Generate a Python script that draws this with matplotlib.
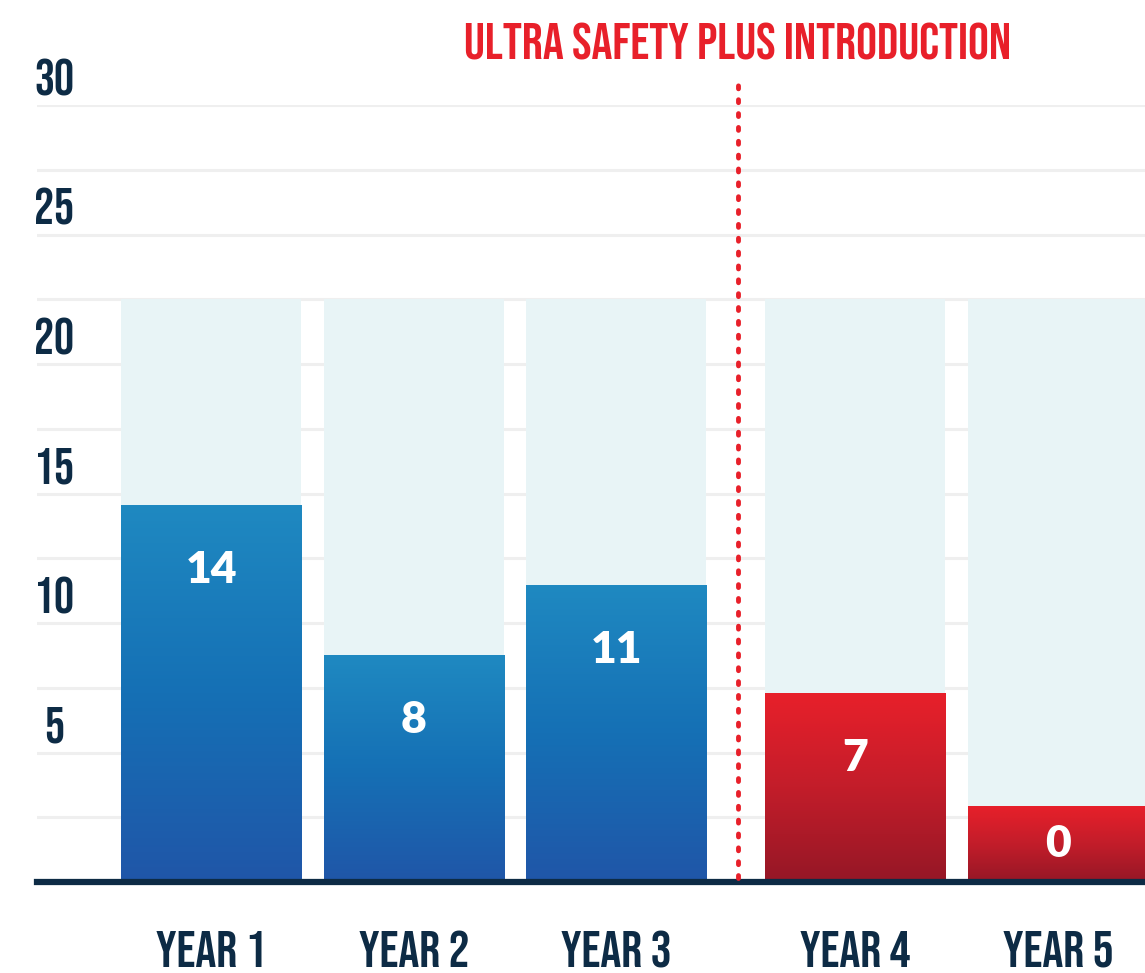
import matplotlib
matplotlib.use("Agg")
import matplotlib.pyplot as plt
import matplotlib.transforms as mtransforms
from matplotlib import font_manager
from matplotlib.colors import LinearSegmentedColormap
import numpy as np

# data
years = ["YEAR 1", "YEAR 2", "YEAR 3", "YEAR 4", "YEAR 5"]
value_labels = ["14", "8", "11", "7", "0"]
bar_heights = [14.55, 8.75, 11.45, 7.3, 2.95]   # drawn heights (infographic, not to scale)
track_height = 22.5                              # light background column
y_ticks = [5, 10, 15, 20, 25, 30]
title = "ULTRA SAFETY PLUS INTRODUCTION"

NAVY = "#0d2b45"
RED = "#e8202a"
TRACK = "#e8f4f6"
GRID = "#efefef"

fonts = font_manager.fontManager.ttflist
names = {f.name for f in fonts}
cond = dict(family="DejaVu Sans", stretch="condensed")
scale = 0.72
for cand, s in [("Bebas Neue", 1.0), ("Oswald", 0.85), ("Roboto Condensed", 0.72),
                ("Liberation Sans Narrow", 0.72)]:
    if cand in names:
        cond, scale = dict(family=cand), s
        break

# heavy geometric font for the numbers in the bars
num_font, num_weight = "Lato", "heavy"
mw = [f.weight for f in fonts if f.name == "Montserrat"]
mw = [w if isinstance(w, int) else 400 for w in mw]
if mw and max(mw) >= 700:
    num_font, num_weight = "Montserrat", max(w for w in mw if w <= 800)
elif "Lato" not in names:
    num_font = "Open Sans"

fig = plt.figure(figsize=(11.45, 9.73), dpi=100)
ax = fig.add_axes([37 / 1145, 91 / 973, 1108 / 1145, 777 / 973])

idx = np.arange(len(years))
x = idx + np.where(idx >= 3, 0.18, 0.0)
width = 0.89

# grid
for g in np.arange(2.5, 30.01, 2.5):
    ax.axhline(g, color=GRID, lw=2.2, zorder=0)

ax.bar(x, [track_height] * len(x), width=width, color=TRACK, zorder=1)

blue = LinearSegmentedColormap.from_list("b", ["#2056a8", "#1570b5", "#1f89c1"])
red = LinearSegmentedColormap.from_list("r", ["#951726", "#c31d2a", "#e8202a"])
bars = ax.bar(x, bar_heights, width=width, color="none", zorder=2)
grad = np.linspace(0, 1, 256).reshape(-1, 1)
for i, b in enumerate(bars):
    cmap = blue if i < 3 else red
    x0, y0 = b.get_x(), b.get_y()
    im = ax.imshow(grad, cmap=cmap, origin="lower", aspect="auto",
                   extent=[x0, x0 + b.get_width(), y0, y0 + b.get_height()], zorder=2)
    im.set_clip_path(b)
    ty = max(b.get_height() - 2.5, b.get_height() / 2)
    ax.text(b.get_x() + width / 2, ty, value_labels[i], color="white", fontsize=32,
            fontweight=num_weight, family=num_font, ha="center", va="center", zorder=3)

ax.set_xlim(-0.86, 4.61)
ax.set_ylim(0, 30)

# baseline
ax.axhline(0, color=NAVY, lw=4.5, zorder=4, clip_on=False)

# divider
div_x = (x[2] + x[3]) / 2 + 0.01
ax.plot([div_x, div_x], [0.15, 30.95], color=RED, lw=3.5, ls=(0, (0.6, 2.25)),
        dash_capstyle="round", clip_on=False, zorder=5)
ax.text(div_x, 32.45, title, color=RED, fontsize=37.5 * scale, ha="center", va="center",
        clip_on=False, **cond)

# y labels sit above their gridlines
off = mtransforms.ScaledTranslation(0, 20 / 72, fig.dpi_scale_trans)
trans = mtransforms.blended_transform_factory(ax.transAxes, ax.transData) + off
for t in y_ticks:
    ax.text(17 / 1108, t, str(t), transform=trans, color=NAVY, fontsize=36 * scale,
            ha="center", va="center", **cond)

ax.set_yticks([])
ax.set_xticks(x, years)
ax.tick_params(axis="x", length=0, pad=35)
for lab in ax.get_xticklabels():
    lab.set_color(NAVY)
    lab.set_fontsize(37.5 * scale)
    lab.set_fontweight("bold")
    lab.set_family(cond["family"])
    if "stretch" in cond:
        lab.set_stretch(cond["stretch"])

for s in ax.spines.values():
    s.set_visible(False)

fig.savefig("out.png", dpi=100, facecolor="white")
